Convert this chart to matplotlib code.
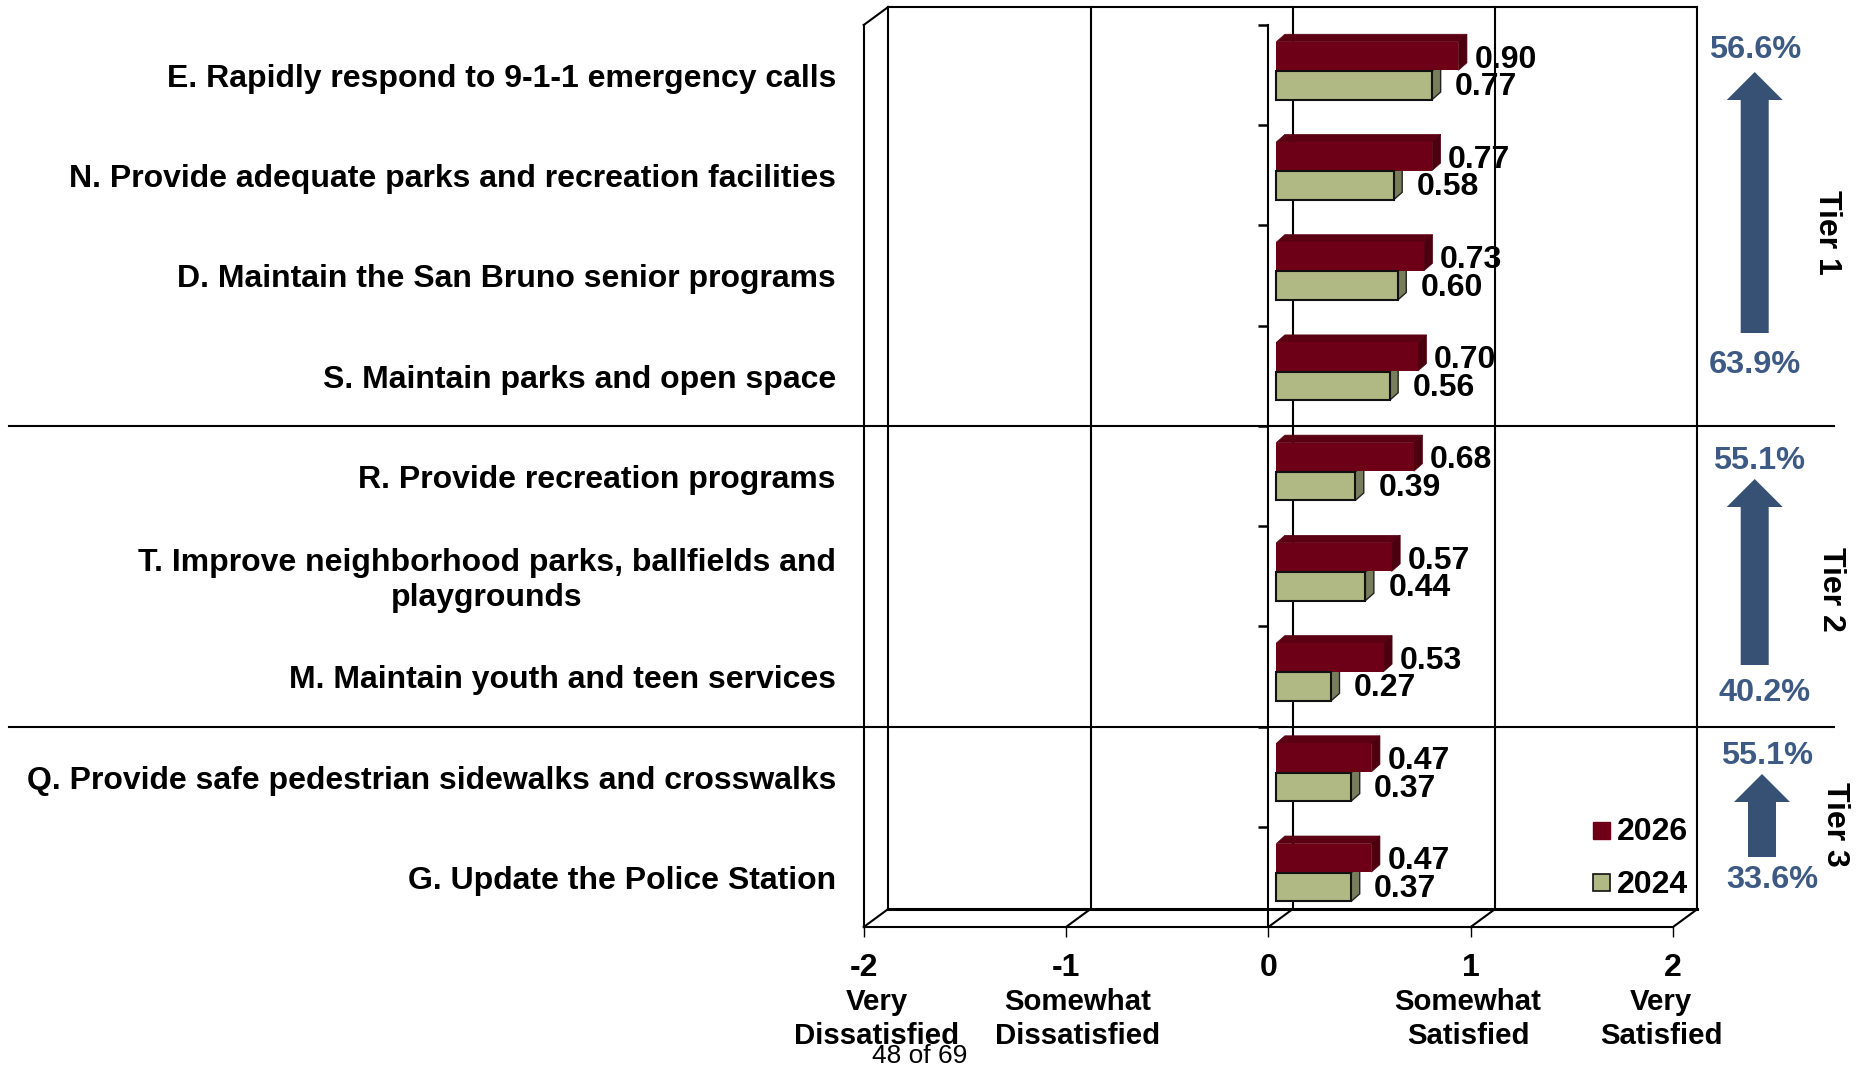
import matplotlib
matplotlib.use('Agg')
import numpy as np
import matplotlib.pyplot as plt
from matplotlib.patches import Polygon, FancyArrow, Rectangle

plt.rcParams['font.family'] = ['Liberation Sans', 'DejaVu Sans']

# ---- data
categories = ["E. Rapidly respond to 9-1-1 emergency calls",
              "N. Provide adequate parks and recreation facilities",
              "D. Maintain the San Bruno senior programs",
              "S. Maintain parks and open space",
              "R. Provide recreation programs",
              "T. Improve neighborhood parks, ballfields and\nplaygrounds",
              "M. Maintain youth and teen services",
              "Q. Provide safe pedestrian sidewalks and crosswalks",
              "G. Update the Police Station"]
values_2026 = [0.90, 0.77, 0.73, 0.70, 0.68, 0.57, 0.53, 0.47, 0.47]
values_2024 = [0.77, 0.58, 0.60, 0.56, 0.39, 0.44, 0.27, 0.37, 0.37]
x_ticks = [-2, -1, 0, 1, 2]
x_sublabels = ["Very\nDissatisfied", "Somewhat\nDissatisfied", "Somewhat\nSatisfied", "Very\nSatisfied"]
tier_names = ["Tier 1", "Tier 2", "Tier 3"]
tier_top_pct = ["56.6%", "55.1%", "55.1%"]
tier_bottom_pct = ["63.9%", "40.2%", "33.6%"]

RED, RED_TOP, RED_SIDE = '#6d0016', '#5a0012', '#4c000f'
GREEN, GREEN_SIDE = '#b0b884', '#787d5c'
BLUE_TXT, BLUE_ARROW = '#3d5a85', '#375175'

W, H = 1858, 1066
fig = plt.figure(figsize=(W / 100, H / 100), dpi=100)

# main axes, front plane of the old 3D excel chart
X0, X1, Y0, Y1 = 863.7, 1673.0, 25.0, 927.0
ax = fig.add_axes([X0 / W, 1 - Y1 / H, (X1 - X0) / W, (Y1 - Y0) / H])
ax.set_xlim(-2, 2)
ax.set_ylim(9, 0)
ax.patch.set_alpha(0)
for s in ['top', 'right']:
    ax.spines[s].set_visible(False)
ax.spines['left'].set_position(('data', 0))
ax.spines['left'].set_linewidth(1.5)
ax.spines['bottom'].set_linewidth(1.5)
ax.spines['left'].set_zorder(2)
ax.set_xticks(x_ticks)
ax.set_xticklabels(['-2', '-1', '0', '1', '2'], fontsize=23, fontweight='bold')
ax.tick_params(axis='x', length=7, width=1, pad=12)
ax.set_yticks(np.arange(0, 9))
ax.set_yticklabels([])
ax.tick_params(axis='y', length=7, width=1.8)

px_x = 4.0 / (X1 - X0)
px_y = 9.0 / (Y1 - Y0)
wall_dx, wall_dy = 24.5 * px_x, 18.0 * px_y

# walls and floor
line = dict(color='black', lw=1.5, clip_on=False, zorder=1, solid_capstyle='projecting')
ax.plot([-2, -2], [0, 9], **line)
ax.plot([-2, -2 + wall_dx], [0, -wall_dy], **line)
ax.plot([-2 + wall_dx, 2 + wall_dx], [-wall_dy, -wall_dy], **line)
ax.plot([2 + wall_dx, 2 + wall_dx], [-wall_dy, 9 - wall_dy], **line)
ax.plot([-2 + wall_dx, 2 + wall_dx], [9 - wall_dy, 9 - wall_dy], color='black', lw=2.2, clip_on=False, zorder=1)
for t in x_ticks:
    ax.plot([t, t + wall_dx], [9, 9 - wall_dy], **line)
    if t < 2:
        ax.plot([t + wall_dx, t + wall_dx], [-wall_dy, 9 - wall_dy], **line)

# bars
y = np.arange(len(categories))
left = 8 * px_x
bar_dx, bar_dy = 8.5 * px_x, 7.5 * px_y
red_top, bar_h = y + 0.167, 0.285
green_top = y + 0.459


def depth_faces(vals, tops, top_c, side_c, z):
    for v, t in zip(vals, tops):
        x = left + v
        b = t + bar_h
        ax.add_patch(Polygon([(left, t), (left + bar_dx, t - bar_dy), (x + bar_dx, t - bar_dy), (x, t)],
                             facecolor=top_c, edgecolor=top_c, lw=0.5, zorder=z, clip_on=False))
        ax.add_patch(Polygon([(x, t), (x + bar_dx, t - bar_dy), (x + bar_dx, b - bar_dy), (x, b)],
                             facecolor=side_c, edgecolor='#222222' if side_c == GREEN_SIDE else side_c,
                             lw=1 if side_c == GREEN_SIDE else 0.5, zorder=z, clip_on=False))


depth_faces(values_2024, green_top, GREEN, GREEN_SIDE, 3)
depth_faces(values_2026, red_top, RED_TOP, RED_SIDE, 4)
ax.barh(red_top, values_2026, left=left, height=bar_h, align='edge', color=RED, zorder=5)
ax.barh(green_top, values_2024, left=left, height=bar_h, align='edge', color=GREEN,
        edgecolor='#111111', linewidth=1.5, zorder=6)

# value labels
for i in y:
    ax.text(left + values_2026[i] + 16 * px_x, i + 0.5 - 15.5 * px_y, '%.2f' % values_2026[i], fontsize=23,
            fontweight='bold', va='center', ha='left', zorder=8)
    ax.text(left + values_2024[i] + 23 * px_x, i + 0.5 + 12 * px_y, '%.2f' % values_2024[i], fontsize=23,
            fontweight='bold', va='center', ha='left', zorder=8)

# overlay in pixels for the things outside of the plot
over = fig.add_axes([0, 0, 1, 1])
over.set_xlim(0, W)
over.set_ylim(H, 0)
over.axis('off')

for i, c in enumerate(categories):
    over.text(836, Y0 + (i + 0.5) * 100.2 + 4, c, fontsize=23, fontweight='bold', ha='right', va='center',
              multialignment='center', linespacing=1.22)

for sep in [425.5, 726.5]:
    over.plot([9, 1834], [sep, sep], color='black', lw=1.5)

for cx, txt in zip([877, 1078, 1468, 1661], x_sublabels):
    over.text(cx, 1019, txt, fontsize=21.2, fontweight='bold', ha='center', va='center', linespacing=1.28)
over.text(920, 1056, "48 of 69", fontsize=19, ha='center', va='center')

# legend
over.add_patch(Rectangle((1593, 822), 17, 17, facecolor=RED, edgecolor=RED))
over.add_patch(Rectangle((1593, 874), 17, 17, facecolor=GREEN, edgecolor='#111111', lw=1.2))
over.text(1617, 832, "2026", fontsize=23, fontweight='bold', va='center')
over.text(1617, 885, "2024", fontsize=23, fontweight='bold', va='center')

# tier arrows
arrow_x = [1754.7, 1754.7, 1762]
arrow_tip = [72, 479, 774]
arrow_end = [333, 665, 857]
top_pos = [(1755, 50), (1759, 461), (1767, 756)]
bottom_pos = [(1755, 365), (1765, 693), (1772, 880)]
tier_pos = [(1827, 232), (1831, 589), (1835, 824)]
for k in range(3):
    over.add_patch(FancyArrow(arrow_x[k], arrow_end[k], 0, arrow_tip[k] - arrow_end[k], width=28, head_width=56,
                              head_length=28, length_includes_head=True, facecolor=BLUE_ARROW, edgecolor='none'))
    over.text(top_pos[k][0], top_pos[k][1], tier_top_pct[k], color=BLUE_TXT, fontsize=23.4, fontweight='bold',
              ha='center', va='center')
    over.text(bottom_pos[k][0], bottom_pos[k][1], tier_bottom_pct[k], color=BLUE_TXT, fontsize=23.4,
              fontweight='bold', ha='center', va='center')
    over.text(tier_pos[k][0], tier_pos[k][1], tier_names[k], rotation=-90, fontsize=23, fontweight='bold',
              ha='center', va='center')

fig.savefig('out.png', dpi=100)
